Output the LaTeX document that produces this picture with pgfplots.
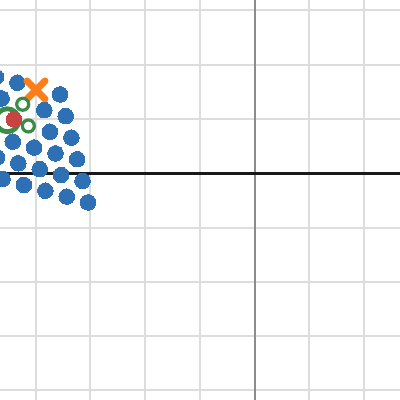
\documentclass[border=0pt]{standalone}
\usepackage{pgfplots}
\pgfplotsset{compat=1.18}
\definecolor{dblue}{HTML}{2D70B3}
\definecolor{dorange}{HTML}{FA7E19}
\definecolor{dgreen}{HTML}{388C46}
\definecolor{dred}{HTML}{C74440}
\definecolor{gridc}{HTML}{DDDDDD}
\definecolor{axc}{HTML}{8C8C8C}
\begin{document}
\begin{tikzpicture}
\begin{axis}[
  x=54.7bp, y=54.3bp,
  xmin=-5.2, xmax=2.9, ymin=-4.4, ymax=3.4,
  axis line style={draw=none},
  xtick={-5,-4,-3,-2,-1,0,1,2}, ytick={-4,-3,-2,-1,0,1,2,3},
  xticklabels={}, yticklabels={},
  major tick length=0pt,
  grid=major,
  major grid style={gridc, line width=2bp},
  clip=false,
]
\coordinate (bl) at (axis cs:-4.653,-4.175);
\coordinate (tr) at (axis cs:2.660,3.191);
\addplot[axc, line width=2bp] coordinates {(0,-4.4) (0,3.4)};
\addplot[black!90, line width=3bp] coordinates {(-5.2,0) (2.9,0)};
% blue dots
\addplot[dblue, only marks, mark=*, mark size=7.8bp, mark options={draw=dblue, fill=dblue, line width=0pt}] coordinates {
(-4.728,1.775) (-4.336,1.668) (-3.554,1.452)
(-4.625,1.378) (-3.843,1.162) (-3.452,1.054)
(-3.740,0.764) (-3.349,0.657)
(-4.420,0.582) (-4.029,0.474) (-3.638,0.366) (-3.243,0.259)
(-4.709,0.292) (-4.318,0.184) (-3.927,0.076) (-3.536,-0.031) (-3.144,-0.139)
(-4.607,-0.106) (-4.216,-0.214) (-3.824,-0.321) (-3.433,-0.429) (-3.042,-0.537)
};
% orange cross
\addplot[dorange, only marks, mark=x, mark size=12.7bp, mark options={draw=dorange, line width=7bp, line cap=round}] coordinates {(-3.995,1.534)};
% small green rings
\addplot[dgreen, only marks, mark=*, mark size=6bp, mark options={draw=dgreen, fill=white, line width=3.2bp}] coordinates {(-4.238,1.271) (-4.135,0.871)};
% big green ring
\addplot[dgreen, only marks, mark=*, mark size=11.5bp, mark options={draw=dgreen, fill=white, line width=4.8bp}] coordinates {(-4.519,0.976)};
% red dot
\addplot[dred, only marks, mark=*, mark size=7.8bp, mark options={draw=dred, fill=dred, line width=0pt}] coordinates {(-4.397,0.994)};
\end{axis}
\pgfresetboundingbox
\path[use as bounding box] (bl) rectangle (tr);
\end{tikzpicture}
\end{document}
